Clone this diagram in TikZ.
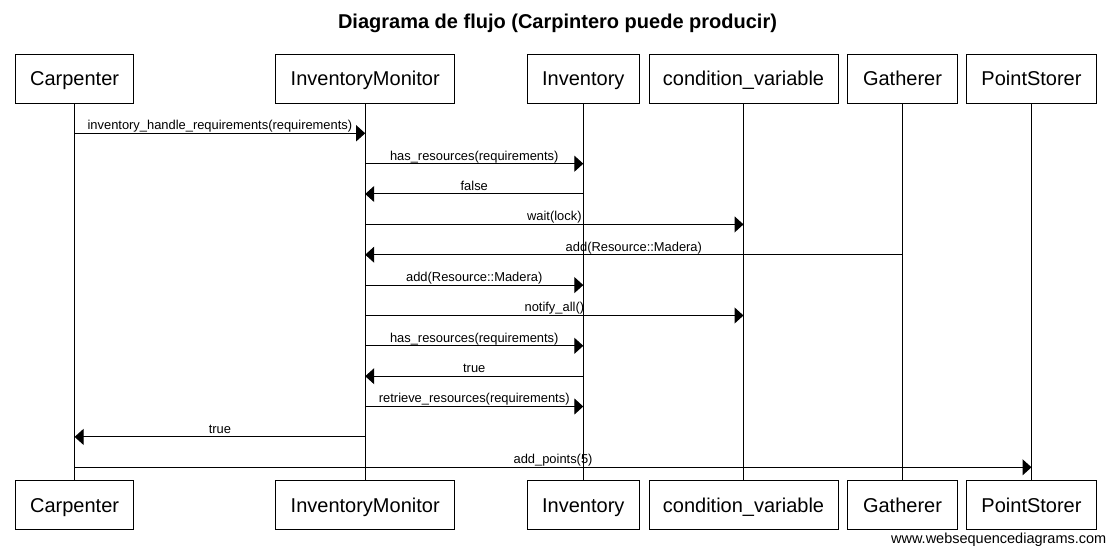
\documentclass[tikz,border=0pt]{standalone}
\usepackage{fontspec}
\setmainfont{Liberation Sans}
\usetikzlibrary{arrows.meta}
\begin{document}
\begin{tikzpicture}[x=1pt,y=-1pt,
  part/.style={draw=black,line width=1pt,rectangle,inner sep=0pt,minimum height=49.3pt,
    font=\fontsize{20}{24}\selectfont,text height=14.6pt,text depth=0pt},
  life/.style={line width=1pt},
  msg/.style={line width=1pt,-{Triangle[length=9pt,width=16pt]}},
  lbl/.style={anchor=base,yshift=3.6pt,inner sep=0pt,font=\fontsize{12.9}{15}\selectfont}]
\fill[white] (0,0) rectangle (1111,553);
\useasboundingbox (0,0) rectangle (1111,553);
\node[anchor=base,inner sep=0pt,font=\fontsize{20}{24}\selectfont\bfseries] (title) at (557.5,28.5) {Diagrama de flujo (Carpintero puede producir)};
% top participants
\node[part,minimum width=118.4pt] (carT) at (74.6,78.7) {Carpenter};
\node[part,minimum width=179pt] (imT) at (365.2,78.7) {InventoryMonitor};
\node[part,minimum width=112.1pt] (invT) at (583.3,78.7) {Inventory};
\node[part,minimum width=189pt] (cvT) at (743.5,78.7) {condition\_variable};
\node[part,minimum width=110pt] (gaT) at (902.5,78.7) {Gatherer};
\node[part,minimum width=129.3pt] (psT) at (1031.5,78.7) {PointStorer};
% bottom participants
\node[part,minimum width=118.4pt] (carB) at (74.6,504.8) {Carpenter};
\node[part,minimum width=179pt] (imB) at (365.2,504.8) {InventoryMonitor};
\node[part,minimum width=112.1pt] (invB) at (583.3,504.8) {Inventory};
\node[part,minimum width=189pt] (cvB) at (743.5,504.8) {condition\_variable};
\node[part,minimum width=110pt] (gaB) at (902.5,504.8) {Gatherer};
\node[part,minimum width=129.3pt] (psB) at (1031.5,504.8) {PointStorer};
% lifelines
\foreach \p in {car,im,inv,cv,ga,ps} \draw[life] (\p T.south) -- (\p B.north);
% messages
\draw[msg] (carT |- 0,133.3) -- node[lbl]{inventory\_handle\_requirements(requirements)} (imT |- 0,133.3);
\draw[msg] (imT |- 0,163.7) -- node[lbl]{has\_resources(requirements)} (invT |- 0,163.7);
\draw[msg] (invT |- 0,194.0) -- node[lbl]{false} (imT |- 0,194.0);
\draw[msg] (imT |- 0,224.4) -- node[lbl]{wait(lock)} (cvT |- 0,224.4);
\draw[msg] (gaT |- 0,254.7) -- node[lbl]{add(Resource::Madera)} (imT |- 0,254.7);
\draw[msg] (imT |- 0,285.1) -- node[lbl]{add(Resource::Madera)} (invT |- 0,285.1);
\draw[msg] (imT |- 0,315.5) -- node[lbl]{notify\_all()} (cvT |- 0,315.5);
\draw[msg] (imT |- 0,345.8) -- node[lbl]{has\_resources(requirements)} (invT |- 0,345.8);
\draw[msg] (invT |- 0,376.2) -- node[lbl]{true} (imT |- 0,376.2);
\draw[msg] (imT |- 0,406.5) -- node[lbl]{retrieve\_resources(requirements)} (invT |- 0,406.5);
\draw[msg] (imT |- 0,436.9) -- node[lbl]{true} (carT |- 0,436.9);
\draw[msg] (carT |- 0,467.3) -- node[lbl]{add\_points(5)} (psT |- 0,467.3);
% watermark
\node[anchor=base east,inner sep=0pt,font=\fontsize{14.5}{16}\selectfont] (wm) at (1106.5,543.3) {www.websequencediagrams.com};
\end{tikzpicture}
\end{document}
